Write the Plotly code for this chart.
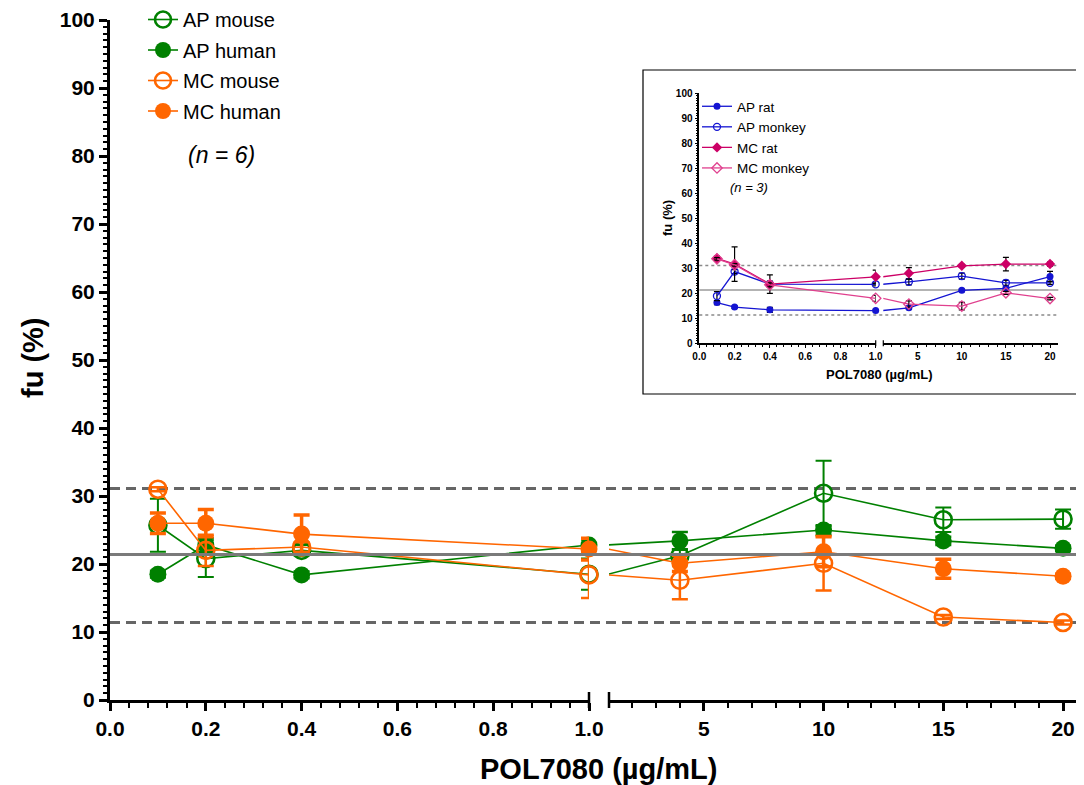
import plotly.graph_objects as go

# ---------------- data ----------------
conc_low = [0.1, 0.2, 0.4, 1.0]
conc_high = [4, 10, 15, 20]

ap_mouse = [25.7, 20.8, 22.0, 18.5, 21.2, 30.4, 26.5, 26.6]
ap_mouse_sd = [3.9, 2.7, 0.8, 2.3, 1.0, 4.8, 1.8, 1.4]
ap_human = [18.5, 22.8, 18.4, 22.8, 23.4, 25.0, 23.4, 22.3]
ap_human_sd = [0.5, 1.0, 0.5, 0.8, 1.3, 0.7, 0.6, 0.4]
mc_mouse = [31.0, 22.0, 22.5, 18.4, 17.6, 20.1, 12.2, 11.4]
mc_mouse_sd = [0.3, 2.3, 0.7, 3.4, 2.8, 4.0, 0.3, 0.3]
mc_human = [26.0, 26.0, 24.4, 22.2, 20.1, 21.8, 19.3, 18.2]
mc_human_sd = [1.5, 2.0, 2.8, 1.6, 1.2, 2.2, 1.4, 0.3]

ap_rat = [16.3, 14.5, 13.4, 13.1, 14.2, 21.2, 22.0, 26.7]
ap_rat_sd = [0.8, 0.5, 1.0, 0.5, 0.6, 0.5, 0.6, 2.1]
ap_monkey = [18.9, 28.7, 23.7, 23.6, 24.6, 26.9, 24.2, 24.2]
ap_monkey_sd = [1.8, 0.8, 1.2, 0.6, 1.2, 1.2, 1.0, 0.6]
mc_rat = [34.0, 31.7, 23.7, 26.6, 28.0, 31.0, 31.7, 31.7]
mc_rat_sd = [1.0, 6.9, 3.7, 2.7, 2.3, 0.6, 2.7, 0.8]
mc_monkey = [33.8, 31.4, 23.4, 18.0, 15.7, 14.9, 20.2, 17.9]
mc_monkey_sd = [0.5, 0.5, 0.8, 1.2, 1.3, 1.5, 0.6, 0.5]

main_ref = {"mean": 21.4, "upper": 31.1, "lower": 11.4}
inset_ref = {"mean": 21.3, "upper": 31.1, "lower": 11.3}

low_ticks = [0.0, 0.2, 0.4, 0.6, 0.8, 1.0]
low_ticktext = ["0.0", "0.2", "0.4", "0.6", "0.8", "1.0"]
high_ticks = [5, 10, 15, 20]
high_ticktext = ["5", "10", "15", "20"]
y_ticks = list(range(0, 101, 10))

# ---------------- layout geometry ----------------
# the page body adds an 8px offset; target positions are given in screen pixels
W, H = 1084, 785
OFF = 8
PLOT_L, PLOT_R, PLOT_T, PLOT_B = 110, 1084, 20, 700  # screen pixels
ML = PLOT_L - OFF
MR = W - (PLOT_R - OFF)
MT = PLOT_T - OFF
MB = H - (PLOT_B - OFF)
PW, PH = PLOT_R - PLOT_L, PLOT_B - PLOT_T


def px(x):
    return (x - PLOT_L) / PW


def py(y):
    return (PLOT_B - y) / PH


FONT = "Liberation Sans, Arial, Helvetica, sans-serif"
GREEN = "#008000"
ORANGE = "#FF6600"
BLUE = "#1414D2"
MAGENTA = "#CC0066"
PINK = "#E0408E"

fig = go.Figure()
n_low = len(conc_low)


def add_series(name, vals, sd, color, symbol, size, lw, ew, xa, xb, ya, legend,
               mline=0, eb_color=None, capw=8):
    eb_color = eb_color or color
    marker = dict(symbol=symbol, size=size, color=color,
                  line=dict(color=color, width=mline))
    # low segment
    fig.add_trace(go.Scatter(
        x=conc_low, y=vals[:n_low], mode="lines+markers", name=name,
        xaxis=xa, yaxis=ya, legend=legend, legendgroup=name,
        line=dict(color=color, width=lw), marker=marker, cliponaxis=False,
        error_y=dict(type="data", array=sd[:n_low], color=eb_color, thickness=ew, width=capw),
    ))
    # bridge across the axis break (clipped by the second segment)
    fig.add_trace(go.Scatter(
        x=[conc_low[-1], conc_high[0]], y=[vals[n_low - 1], vals[n_low]], mode="lines",
        xaxis=xb, yaxis=ya, showlegend=False, legendgroup=name, hoverinfo="skip",
        line=dict(color=color, width=lw),
    ))
    # high segment
    fig.add_trace(go.Scatter(
        x=conc_high, y=vals[n_low:], mode="lines+markers", name=name,
        xaxis=xb, yaxis=ya, showlegend=False, legendgroup=name,
        line=dict(color=color, width=lw), marker=marker, cliponaxis=False,
        error_y=dict(type="data", array=sd[n_low:], color=eb_color, thickness=ew, width=capw),
    ))


# main series
add_series("AP mouse", ap_mouse, ap_mouse_sd, GREEN, "circle-open", 17, 1.6, 2, "x", "x2", "y", "legend", mline=2.6)
add_series("AP human", ap_human, ap_human_sd, GREEN, "circle", 17, 1.6, 2.5, "x", "x2", "y", "legend")
add_series("MC mouse", mc_mouse, mc_mouse_sd, ORANGE, "circle-open", 17, 1.6, 2.5, "x", "x2", "y", "legend", mline=2.6)
add_series("MC human", mc_human, mc_human_sd, ORANGE, "circle", 17, 1.6, 3.5, "x", "x2", "y", "legend")

# inset series
add_series("AP rat", ap_rat, ap_rat_sd, BLUE, "circle", 7, 1.3, 1.2, "x3", "x4", "y2", "legend2", eb_color="black", capw=3)
add_series("AP monkey", ap_monkey, ap_monkey_sd, BLUE, "circle-open", 7, 1.3, 1.2, "x3", "x4", "y2", "legend2", mline=1.3, eb_color="black", capw=3)
add_series("MC rat", mc_rat, mc_rat_sd, MAGENTA, "diamond", 8, 1.3, 1.2, "x3", "x4", "y2", "legend2", eb_color="black", capw=3)
add_series("MC monkey", mc_monkey, mc_monkey_sd, PINK, "diamond-open", 8, 1.3, 1.2, "x3", "x4", "y2", "legend2", mline=1.3, eb_color="black", capw=3)

# ---------------- axes ----------------
tick_font = dict(family=FONT, size=21, color="black", weight="bold")
small_font = dict(family=FONT, size=10, color="black", weight="bold")

seg1_end = 589
seg2_start = 609


def xaxis_common(font, lw, tlen, twid):
    return dict(showline=True, linecolor="black", linewidth=lw, ticks="outside",
                ticklen=tlen, tickwidth=twid, tickcolor="black", tickfont=font,
                showgrid=False, zeroline=False, fixedrange=True, automargin=False)


main_x1 = xaxis_common(tick_font, 3, 8, 2.5)
main_x1.update(domain=[0, px(seg1_end)], range=[0, 1.0], anchor="y",
               tickvals=low_ticks, ticktext=low_ticktext,
               minor=dict(dtick=0.04, tick0=0, ticks="outside", ticklen=5, tickwidth=2, tickcolor="black"))
main_x2 = xaxis_common(tick_font, 3, 8, 2.5)
main_x2.update(domain=[px(seg2_start), 1], range=[1.04, 20.875], anchor="y",
               tickvals=high_ticks, ticktext=high_ticktext,
               minor=dict(dtick=1, tick0=0, ticks="outside", ticklen=5, tickwidth=2, tickcolor="black"))
main_y = dict(domain=[0, 1], range=[0, 100], anchor="x", tickvals=y_ticks,
              showline=True, linecolor="black", linewidth=3, ticks="outside", ticklen=8,
              tickwidth=2.5, tickcolor="black", tickfont=tick_font, showgrid=False,
              zeroline=False, fixedrange=True, automargin=False,
              minor=dict(dtick=1, ticks="outside", ticklen=4, tickwidth=1.5, tickcolor="black"))

# inset geometry (screen pixels)
in_y0, in_y100 = 343.3, 93.3
in_x0, in_x1e = 699.3, 875.7
in_x2s, in_x2e = 883.3, 1058.3

inset_x3 = xaxis_common(small_font, 1.5, 3, 1.2)
inset_x3.update(domain=[px(in_x0), px(in_x1e)], range=[0, 1.0], anchor="y2",
                tickvals=low_ticks, ticktext=low_ticktext,
                minor=dict(dtick=0.04, tick0=0, ticks="outside", ticklen=2, tickwidth=1, tickcolor="black"))
inset_x4 = xaxis_common(small_font, 1.5, 3, 1.2)
inset_x4.update(domain=[px(in_x2s), px(in_x2e)], range=[1.1, 20.94], anchor="y2",
                tickvals=high_ticks, ticktext=high_ticktext,
                minor=dict(dtick=1, tick0=0, ticks="outside", ticklen=2, tickwidth=1, tickcolor="black"))
inset_y = dict(domain=[py(in_y0), py(in_y100)], range=[0, 100], anchor="x3", tickvals=y_ticks,
               showline=True, linecolor="black", linewidth=1.5, ticks="outside", ticklen=3,
               tickwidth=1.2, tickcolor="black", tickfont=small_font, showgrid=False,
               zeroline=False, fixedrange=True, automargin=False,
               minor=dict(dtick=1, ticks="outside", ticklen=1.5, tickwidth=0.8, tickcolor="black"))

# ---------------- shapes ----------------
shapes = []
# inset frame (white background)
shapes.append(dict(type="rect", xref="paper", yref="paper", x0=px(643), x1=px(1082), y0=py(394), y1=py(70),
                   line=dict(color="black", width=1.2), fillcolor="white", layer="below"))
# main reference lines
for key in ("upper", "lower"):
    shapes.append(dict(type="line", xref="paper", yref="y", x0=0, x1=1, y0=main_ref[key], y1=main_ref[key],
                       line=dict(color="#666666", width=3, dash="10px,6px"), layer="below"))
shapes.append(dict(type="line", xref="paper", yref="y", x0=0, x1=1, y0=main_ref["mean"], y1=main_ref["mean"],
                   line=dict(color="#7a7a7a", width=3), layer="above"))
# inset reference lines
for key in ("upper", "lower"):
    shapes.append(dict(type="line", xref="paper", yref="y2", x0=px(in_x0), x1=px(in_x2e),
                       y0=inset_ref[key], y1=inset_ref[key],
                       line=dict(color="#8a8a8a", width=1.5, dash="dot"), layer="below"))
shapes.append(dict(type="line", xref="paper", yref="y2", x0=px(in_x0), x1=px(in_x2e),
                   y0=inset_ref["mean"], y1=inset_ref["mean"],
                   line=dict(color="#9a9a9a", width=1.5), layer="below"))
# axis-break caps
for xr, xv in (("x domain", 1), ("x2 domain", 0)):
    shapes.append(dict(type="line", xref=xr, yref="paper", x0=xv, x1=xv, y0=py(708), y1=py(692),
                       line=dict(color="black", width=2.5)))
for xr, xv in (("x3 domain", 1), ("x4 domain", 0)):
    shapes.append(dict(type="line", xref=xr, yref="paper", x0=xv, x1=xv, y0=py(in_y0 + 3), y1=py(in_y0 - 3),
                       line=dict(color="black", width=1.2)))

# ---------------- annotations ----------------
title_font = dict(family=FONT, size=29, color="black", weight="bold")
annotations = [
    dict(text="POL7080 (µg/mL)", xref="paper", yref="paper", x=px(598), y=py(769),
         showarrow=False, font=title_font, xanchor="center", yanchor="middle"),
    dict(text="fu (%)", xref="paper", yref="paper", x=px(33), y=py(358), textangle=-90,
         showarrow=False, font=title_font, xanchor="center", yanchor="middle"),
    dict(text="<i>(n = 6)</i>", xref="paper", yref="paper", x=px(186), y=py(155),
         showarrow=False, font=dict(family=FONT, size=23, color="black"), xanchor="left", yanchor="middle"),
    dict(text="POL7080 (µg/mL)", xref="paper", yref="paper", x=px(879), y=py(375),
         showarrow=False, font=dict(family=FONT, size=13, color="black", weight="bold"),
         xanchor="center", yanchor="middle"),
    dict(text="fu (%)", xref="paper", yref="paper", x=px(668), y=py(218), textangle=-90,
         showarrow=False, font=dict(family=FONT, size=13, color="black", weight="bold"),
         xanchor="center", yanchor="middle"),
    dict(text="<i>(n = 3)</i>", xref="paper", yref="paper", x=px(728), y=py(187),
         showarrow=False, font=dict(family=FONT, size=13, color="black"), xanchor="left", yanchor="middle"),
]

fig.update_layout(
    width=W, height=H,
    margin=dict(l=ML, r=MR, t=MT, b=MB, autoexpand=False),
    paper_bgcolor="white", plot_bgcolor="rgba(0,0,0,0)",
    xaxis=main_x1, xaxis2=main_x2, yaxis=main_y,
    xaxis3=inset_x3, xaxis4=inset_x4, yaxis2=inset_y,
    shapes=shapes, annotations=annotations,
    showlegend=True,
    legend=dict(x=px(143), y=py(0), xanchor="left", yanchor="top", bgcolor="rgba(0,0,0,0)",
                font=dict(family=FONT, size=20, color="black"), tracegroupgap=1.5,
                traceorder="grouped", itemsizing="trace"),
    legend2=dict(x=px(697), y=py(91), xanchor="left", yanchor="top", bgcolor="rgba(0,0,0,0)",
                 font=dict(family=FONT, size=13.5, color="black"), tracegroupgap=0,
                 traceorder="grouped", itemsizing="trace"),
    hovermode=False,
)

fig.write_html("out.html")
